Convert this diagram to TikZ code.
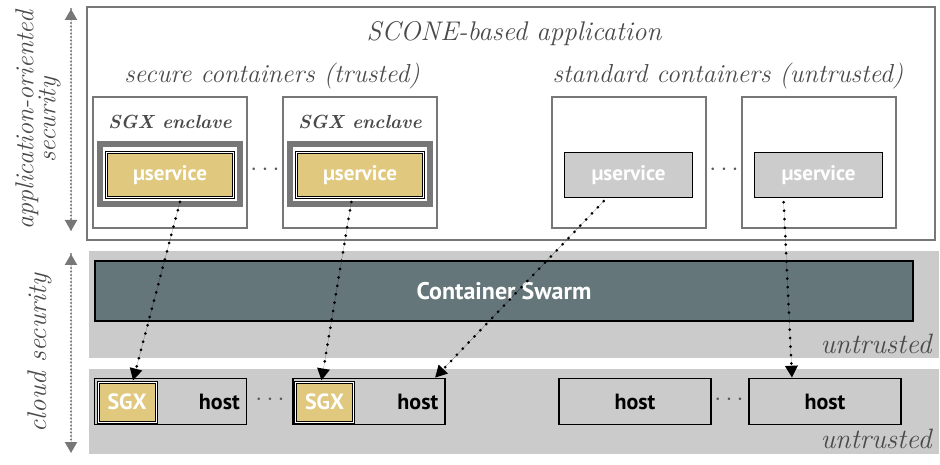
\documentclass[tikz,border=0pt]{standalone}
\usepackage{fontspec}
\setsansfont{PT Sans}
\usetikzlibrary{arrows.meta}
\usetikzlibrary{calc}

\definecolor{framegray}{HTML}{777777}
\definecolor{textgray}{HTML}{4A4A4A}
\definecolor{bandgray}{HTML}{CBCBCB}
\definecolor{sgxgold}{HTML}{E0C97E}
\definecolor{swarmgray}{HTML}{65767B}
\definecolor{stdgray}{HTML}{CCCCCC}

\tikzset{
  frame/.style={draw=framegray, line width=1.5pt, inner sep=0pt},
  container/.style={frame, minimum width=154pt, minimum height=131pt},
  enclave/.style={draw=framegray, line width=6pt, minimum width=140pt, minimum height=60pt, inner sep=0pt},
  securems/.style={draw=black, double=white, double distance=1pt, line width=1.2pt, fill=sgxgold,
    minimum width=127pt, minimum height=45pt, text=white, font=\sffamily\bfseries\fontsize{21}{24}\selectfont},
  stdms/.style={draw=black, line width=1.5pt, fill=stdgray, minimum width=128pt, minimum height=45pt,
    text=white, font=\sffamily\bfseries\fontsize{21}{24}\selectfont},
  host/.style={draw=black, line width=1.5pt, minimum width=152pt, minimum height=46pt, inner sep=0pt},
  sgxbox/.style={draw=black, double=white, double distance=1pt, line width=1pt, fill=sgxgold,
    minimum width=58pt, minimum height=40pt, inner sep=0pt, text=white,
    font=\sffamily\bfseries\fontsize{22}{24}\selectfont},
  hostlabel/.style={font=\sffamily\bfseries\fontsize{22}{24}\selectfont},
  label/.style={text=textgray, font=\itshape\fontsize{26}{28}\selectfont},
  dots/.style={text=black!65, font=\fontsize{24}{24}\selectfont},
  layer/.style={-{Triangle[length=11pt,width=12pt]}, draw=framegray, fill=framegray,
    line width=2.2pt, line cap=round, dash pattern=on 0pt off 7pt},
  link/.style={-{Triangle[length=12pt,width=12pt]}, draw=black, fill=black,
    line width=3pt, line cap=round, dash pattern=on 0pt off 8.5pt, shorten <=4pt},
}

\begin{document}
\begin{tikzpicture}[x=1pt,y=-1pt]
\useasboundingbox (0,0) rectangle (940,465);

% application layer
\node[frame, minimum width=848pt, minimum height=233pt] (app) at (511,123.5) {};
\node[label, font=\itshape\fontsize{27}{28}\selectfont] (title) at (514,34) {SCONE-based application};
\node[label] (secure) at (272,76) {secure containers (trusted)};
\node[label] (standard) at (728,76) {standard containers (untrusted)};

\node[container] (sc1) at (170,162.5) {};
\node[container] (sc2) at (360,162.5) {};
\node[container] (st1) at (629,162.5) {};
\node[container] (st2) at (819,162.5) {};

\node[text=textgray, font=\bfseries\itshape\fontsize{19}{24}\selectfont] at (170,122) {SGX enclave};
\node[text=textgray, font=\bfseries\itshape\fontsize{19}{24}\selectfont] at (360,122) {SGX enclave};
\node[enclave] (en1) at (170,174) {};
\node[enclave] (en2) at (360,174) {};
\node[securems] (ms1) at (170,175) {µservice};
\node[securems] (ms2) at (360,175) {µservice};
\node[stdms] (ms3) at (628.5,175) {µservice};
\node[stdms] (ms4) at (818.5,175) {µservice};
\node[dots] at (265,170) {$\cdots$};
\node[dots] at (724,170) {$\cdots$};

% cloud layer
\fill[bandgray] (89,251) rectangle (939,358);
\fill[bandgray] (89,369) rectangle (939,454);
\node[draw=black, line width=1.5pt, fill=swarmgray, minimum width=818pt, minimum height=60pt,
  text=white, font=\sffamily\bfseries\fontsize{24}{26}\selectfont] (swarm) at (504,291) {Container Swarm};
\node[label, anchor=east, font=\itshape\fontsize{28}{28}\selectfont] (untr1) at (935,344) {untrusted};
\node[label, anchor=east, font=\itshape\fontsize{28}{28}\selectfont] (untr2) at (935,439) {untrusted};

\node[host] (h1) at (170.5,401.5) {};
\node[host] (h2) at (369,401.5) {};
\node[host] (h3) at (635,401.5) {};
\node[host] (h4) at (825,401.5) {};
\node[sgxbox] (sgx1) at (127,402) {SGX};
\node[sgxbox] (sgx2) at (324.5,402) {SGX};
\node[hostlabel, anchor=east] at ($(h1.east)+(-4,0)$) {host};
\node[hostlabel, anchor=east] at ($(h2.east)+(-4,0)$) {host};
\node[hostlabel] at (h3) {host};
\node[hostlabel] at (h4) {host};
\node[dots] at (270,400) {$\cdots$};
\node[dots] at (729,400) {$\cdots$};

% side labels
\coordinate (a1) at (71,9);
\coordinate (a2) at (71,231);
\coordinate (c1) at (71,254);
\coordinate (c2) at (71,453);
\path[layer] (a1) -- (a2);
\path[layer,{Triangle[length=11pt,width=12pt]}-] (a1) -- (a2);
\path[layer] (c1) -- (c2);
\path[layer,{Triangle[length=11pt,width=12pt]}-] (c1) -- (c2);
\node[label, rotate=90, align=center, font=\itshape\fontsize{26}{22}\selectfont] at (38,120) {application-oriented\\security};
\node[label, rotate=90, font=\itshape\fontsize{27}{28}\selectfont] at (40,353) {cloud security};

% deployment
\draw[link] ($(ms1.south)+(11,0)$) -- ($(sgx1.north)+(6,-1)$);
\draw[link] ($(ms2.south)+(-8,0)$) -- ($(sgx2.north)+(-3,-1)$);
\draw[link] ($(ms3.south)+(-22,0)$) -- ($(h2.north)+(66,0)$);
\draw[link] ($(ms4.south)+(-35,0)$) -- ($(h4.north)+(-33,0)$);
\end{tikzpicture}
\end{document}
